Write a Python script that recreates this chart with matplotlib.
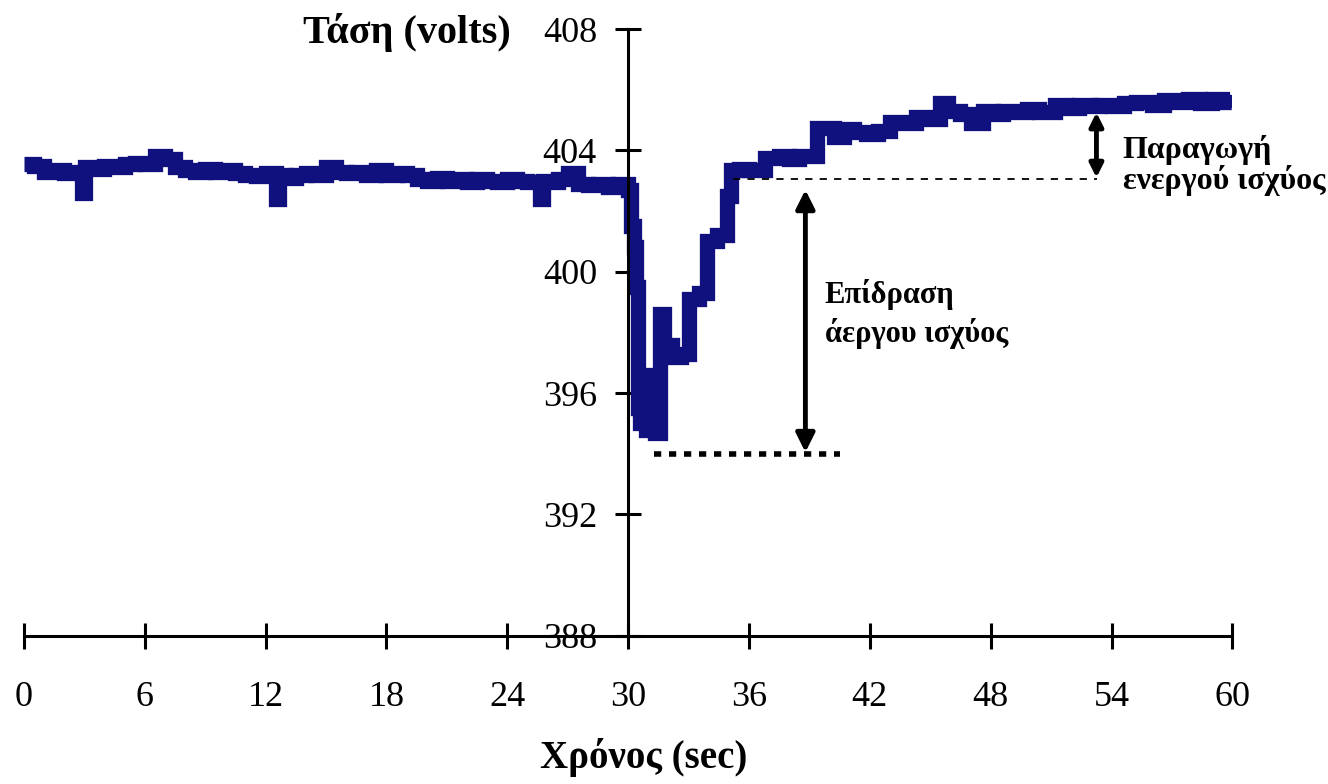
import matplotlib
matplotlib.use("Agg")
import matplotlib.pyplot as plt

plt.rcParams['font.family'] = ['Liberation Serif', 'DejaVu Serif']

# time (sec) and voltage (volts)
t = [0.0, 0.5, 1.0, 1.5, 2.0, 2.5, 2.9, 3.05, 3.5, 4.0, 4.5, 5.0, 5.5, 6.0,
     6.5, 7.0, 7.5, 8.0, 8.5, 9.0, 9.5, 10.0, 10.5, 11.0, 11.5, 12.0, 12.5,
     12.65, 13.0, 13.5, 14.0, 14.5, 15.0, 15.5, 16.0, 16.5, 17.0, 17.5, 18.0,
     18.5, 19.0, 19.5, 20.0, 20.5, 21.0, 21.5, 22.0, 22.5, 23.0, 23.5, 24.0,
     24.5, 25.0, 25.6, 25.75, 26.0, 26.5, 27.0, 27.5, 28.0, 28.5, 29.0, 29.5,
     30.0, 30.15, 30.3, 30.4, 30.5, 30.6, 30.9, 31.2, 31.35, 31.6, 31.8, 32.2,
     32.6, 33.0, 33.5, 33.9, 34.4, 34.9, 35.1, 35.5, 36.0, 36.8, 37.5, 38.0,
     38.5, 39.4, 40.2, 40.7, 41.2, 41.8, 42.4, 43.0, 43.6, 44.3, 45.0, 45.5,
     45.9, 46.5, 47.0, 47.6, 48.1, 48.6, 49.2, 49.8, 50.4, 51.2, 51.8, 52.4,
     53.0, 53.4, 54.0, 54.6, 55.2, 56.0, 56.6, 57.2, 57.8, 58.4, 59.0, 59.5,
     60.0]
volts = [403.55, 403.5, 403.3, 403.35, 403.25, 403.3, 402.6, 403.45, 403.4,
         403.5, 403.45, 403.55, 403.6, 403.55, 403.8, 403.7, 403.45, 403.35,
         403.3, 403.4, 403.3, 403.35, 403.25, 403.2, 403.15, 403.25, 402.4,
         403.2, 403.1, 403.2, 403.25, 403.2, 403.45, 403.3, 403.25, 403.3,
         403.2, 403.35, 403.2, 403.25, 403.2, 403.05, 403.0, 403.1, 403.0,
         403.05, 402.95, 403.05, 403.0, 402.95, 403.05, 403.0, 402.95, 402.4,
         403.0, 402.95, 403.05, 403.25, 402.9, 402.85, 402.9, 402.8, 402.9,
         402.7, 401.5, 400.8, 399.5, 395.5, 395.0, 394.8, 396.6, 394.7, 398.6,
         397.6, 397.2, 397.3, 399.1, 399.3, 401.0, 401.2, 402.5, 403.35,
         403.4, 403.35, 403.75, 403.8, 403.7, 403.8, 404.75, 404.45, 404.7,
         404.6, 404.55, 404.65, 404.95, 404.9, 405.1, 405.05, 405.55, 405.3,
         405.2, 404.9, 405.3, 405.2, 405.3, 405.25, 405.35, 405.25, 405.5,
         405.4, 405.5, 405.45, 405.5, 405.45, 405.55, 405.6, 405.5, 405.65,
         405.6, 405.7, 405.55, 405.7, 405.6, 405.4]

x_ticks = [0, 6, 12, 18, 24, 30, 36, 42, 48, 54, 60]
y_ticks = [388, 392, 396, 400, 404, 408]

# reference levels for the annotations
v_before = 403.05
v_min = 394.0
v_final = 405.25

fig = plt.figure(figsize=(13.28, 7.84), dpi=100)
ax = fig.add_axes([0.018, 0.189, 0.910, 0.774])

ax.plot(t, volts, color='#10107e', lw=11, drawstyle='steps-post',
        solid_capstyle='butt', solid_joinstyle='miter')

# reference lines
ax.plot([35.2, 53.3], [v_before, v_before], color='black', lw=1.3,
        ls=(0, (4, 4)))
ax.plot([31.3, 40.5], [v_min, v_min], color='black', lw=4,
        ls=(0, (1.3, 1.4)))

# arrows
ax.annotate('', xy=(38.8, v_min + 0.05), xytext=(38.8, v_before - 0.35),
            arrowprops=dict(arrowstyle='<|-|>', color='black', lw=3.5,
                            mutation_scale=28, shrinkA=0, shrinkB=0))
ax.annotate('', xy=(53.25, v_final), xytext=(53.25, v_before + 0.05),
            arrowprops=dict(arrowstyle='<|-|>', color='black', lw=3.5,
                            mutation_scale=20, shrinkA=0, shrinkB=0))

ax.text(39.75, 398.6, 'Επίδραση\nάεργου ισχύος', fontsize=22,
        fontweight='bold', va='center', ha='left', linespacing=1.35)
ax.text(54.55, 403.5, 'Παραγωγή\nενεργού ισχύος', fontsize=23,
        fontweight='bold', va='center', ha='left', linespacing=1.0)

ax.set_xlim(0, 60)
ax.set_ylim(388, 408)
ax.spines['left'].set_position(('data', 30))
ax.spines['top'].set_visible(False)
ax.spines['right'].set_visible(False)
for s in ('left', 'bottom'):
    ax.spines[s].set_linewidth(2.2)
ax.set_xticks(x_ticks)
ax.set_yticks(y_ticks)
ax.tick_params(axis='both', direction='inout', length=19, width=2.2,
               labelsize=26)
ax.tick_params(axis='x', pad=23)
ax.tick_params(axis='y', pad=13)

fig.text(0.228, 0.958, 'Τάση (volts)', fontsize=29, fontweight='bold',
         ha='left', va='center')
fig.text(0.485, 0.034, 'Χρόνος (sec)', fontsize=28, fontweight='bold',
         ha='center', va='center')

fig.savefig('out.png', dpi=100)
